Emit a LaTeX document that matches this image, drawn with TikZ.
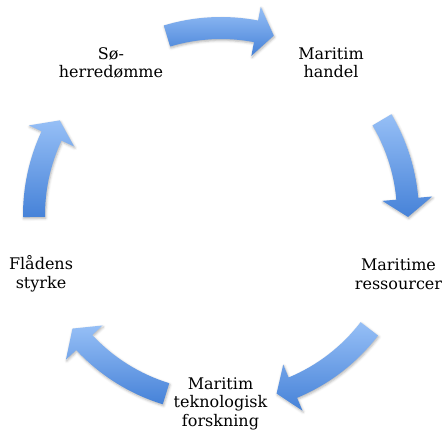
\documentclass[tikz,border=0pt]{standalone}
\usepackage{fontspec}
\setmainfont{DejaVu Serif}
\usetikzlibrary{calc,shadows.blur}
\definecolor{arrowtop}{HTML}{96BFF6}
\definecolor{arrowbot}{HTML}{4682D8}
\newcommand\cyarrow[3]{%
  \path[cyc] ($(C)+(#1:198)$) arc[start angle=#1,end angle=#2,radius=198]
    -- ($(C)+(#2:212)$) -- ($(C)+(#3:187)$) -- ($(C)+(#2:162)$)
    -- ($(C)+(#2:176)$) arc[start angle=#2,end angle=#1,radius=176] -- cycle;}
\begin{document}
\begin{tikzpicture}[x=1pt,y=-1pt,
  lbl/.style={align=center,font=\fontsize{16}{18.5}\selectfont,inner sep=0pt,anchor=base},
  cyc/.style={top color=arrowtop,bottom color=arrowbot,draw=none,
    blur shadow={shadow xshift=0.8pt,shadow yshift=-1.5pt,shadow blur radius=2.5pt,shadow opacity=30}}]
\useasboundingbox (0,0) rectangle (442,430);
\coordinate (C) at (221,215);
\cyarrow{-106.8}{-79.2}{-73.6}
\cyarrow{-30.6}{-5}{0.6}
\cyarrow{37.5}{67.4}{72.7}
\cyarrow{107.1}{137}{142.6}
\cyarrow{179.4}{205}{210.4}
\node[lbl] (soe) at (111,78) {Sø-\\herredømme};
\node[lbl] (handel) at (331,78) {Maritim\\handel};
\node[lbl] (ress) at (398.5,289.5) {Maritime\\ressourcer};
\node[lbl] (tek) at (220.5,426) {Maritim\\teknologisk\\forskning};
\node[lbl] (flaade) at (41,288.5) {Flådens\\styrke};
\end{tikzpicture}
\end{document}
